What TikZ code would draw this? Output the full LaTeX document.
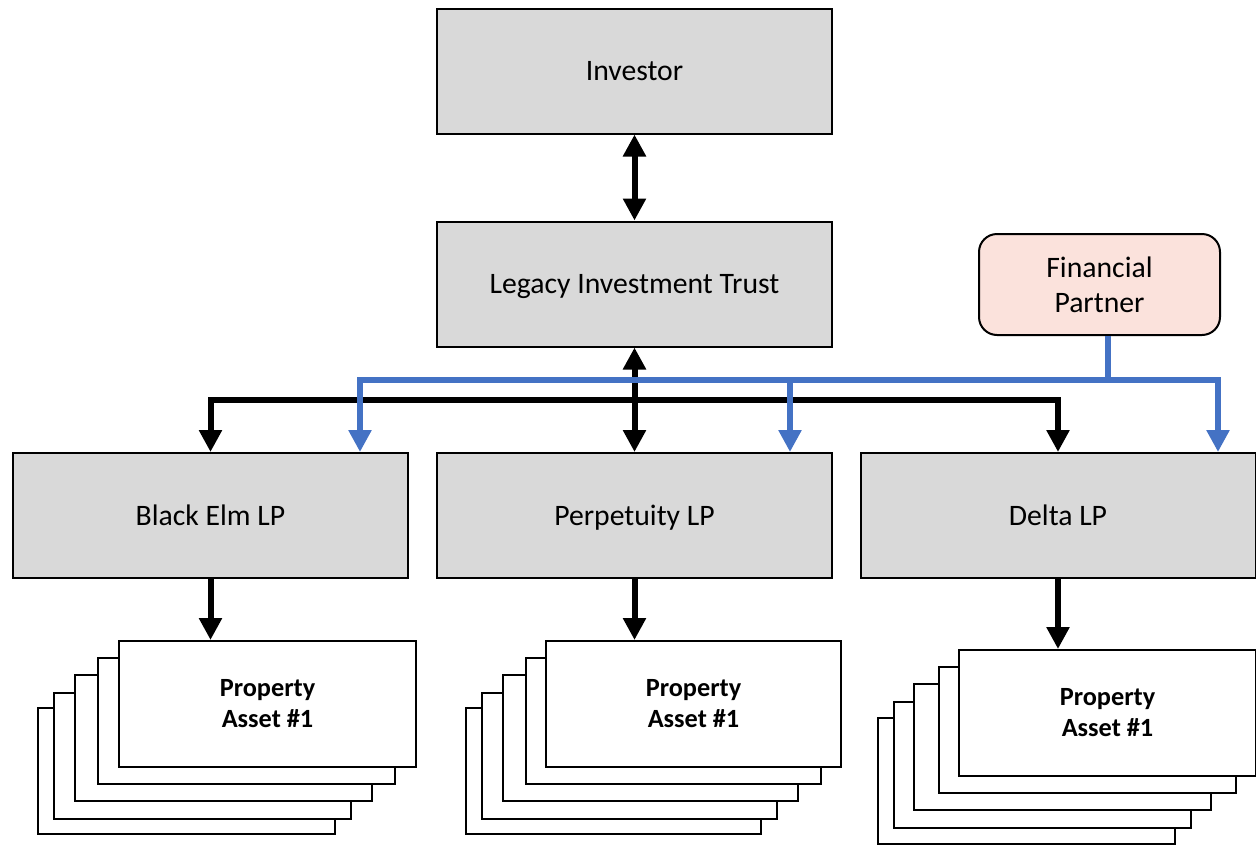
\documentclass[tikz,border=0pt]{standalone}
\usepackage{fontspec}
\setmainfont{Carlito}
\usetikzlibrary{arrows.meta}
\definecolor{boxgray}{HTML}{D9D9D9}
\definecolor{fpink}{HTML}{FBE2DC}
\definecolor{lblue}{HTML}{4472C4}
\begin{document}
\begin{tikzpicture}[x=1pt,y=-1pt,
  lpbox/.style={draw=black, line width=2pt, fill=boxgray, minimum width=395pt, minimum height=125pt, inner sep=0pt, font=\fontsize{29.7}{35}\selectfont, text height=25pt, text depth=6pt},
  fpbox/.style={draw=black, line width=2pt, fill=fpink, rounded corners=18pt, minimum width=241pt, minimum height=101pt, inner sep=0pt, font=\fontsize{29.7}{35}\selectfont, align=center},
  card/.style={draw=black, line width=2pt, fill=white, minimum width=297pt, minimum height=126pt, inner sep=0pt, font=\bfseries\fontsize{26.3}{31}\selectfont, align=center},
  tip/.tip={Triangle[width=22pt,length=22pt]},
  blk/.style={line width=6pt, draw=black},
  blu/.style={line width=6pt, draw=lblue},
]
\useasboundingbox (0,0) rectangle (1256,844);

% stacks (back to front)
\node[card] (be5) at (186.5,771) {};
\node[card] (be4) at (202.5,756) {};
\node[card] (be3) at (223.5,738) {};
\node[card] (be2) at (246.5,721) {};
\node[card] (be1) at (267.5,704) {Property\\Asset \#1};

\node[card, minimum width=295pt] (pp5) at (613.5,771) {};
\node[card, minimum width=295pt] (pp4) at (629.5,756) {};
\node[card, minimum width=295pt] (pp3) at (650.5,738) {};
\node[card, minimum width=295pt] (pp2) at (673.5,721) {};
\node[card, minimum width=295pt] (pp1) at (693.5,704) {Property\\Asset \#1};

\node[card] (dl5) at (1026.5,781) {};
\node[card] (dl4) at (1042.5,765) {};
\node[card] (dl3) at (1062.5,747) {};
\node[card] (dl2) at (1087.5,730) {};
\node[card] (dl1) at (1107.5,713) {Property\\Asset \#1};

% main boxes
\node[lpbox] (inv) at (634.5,71) {Investor};
\node[lpbox] (lit) at (634.5,284) {Legacy Investment Trust};
\node[lpbox] (be) at (210.5,515.5) {Black Elm LP};
\node[lpbox] (pp) at (634.5,515.5) {Perpetuity LP};
\node[lpbox] (dl) at (1058,515.5) {Delta LP};
\node[fpbox] (fp) at (1099.5,284.5) {Financial\\Partner};

% black connectors
\coordinate (hb) at (634,400);
\draw[blk, tip-tip] (inv.south) -- (lit.north);
\draw[blk, tip-tip] (be.north) |- (hb) -| (dl.north);
\draw[blk, tip-tip] (lit.south) -- (pp.north);
\draw[blk, -tip] (be.south) -- (be.south |- be1.north);
\draw[blk, -tip] (pp.south) -- (pp.south |- pp1.north);
\draw[blk, -tip] (dl.south) -- (dl.south |- dl1.north);

% blue connectors
\coordinate (bl) at (360,380);
\coordinate (bm) at (790,380);
\coordinate (br) at (1218,380);
\coordinate (fs) at ([xshift=8.5pt]fp.south);
\draw[blu, tip-tip] (bl |- be.north) -- (bl) -- (br) -- (br |- dl.north);
\draw[blu] (fs) -- (fs |- bl);
\draw[blu, -tip] (bm) -- (bm |- pp.north);
\end{tikzpicture}
\end{document}
